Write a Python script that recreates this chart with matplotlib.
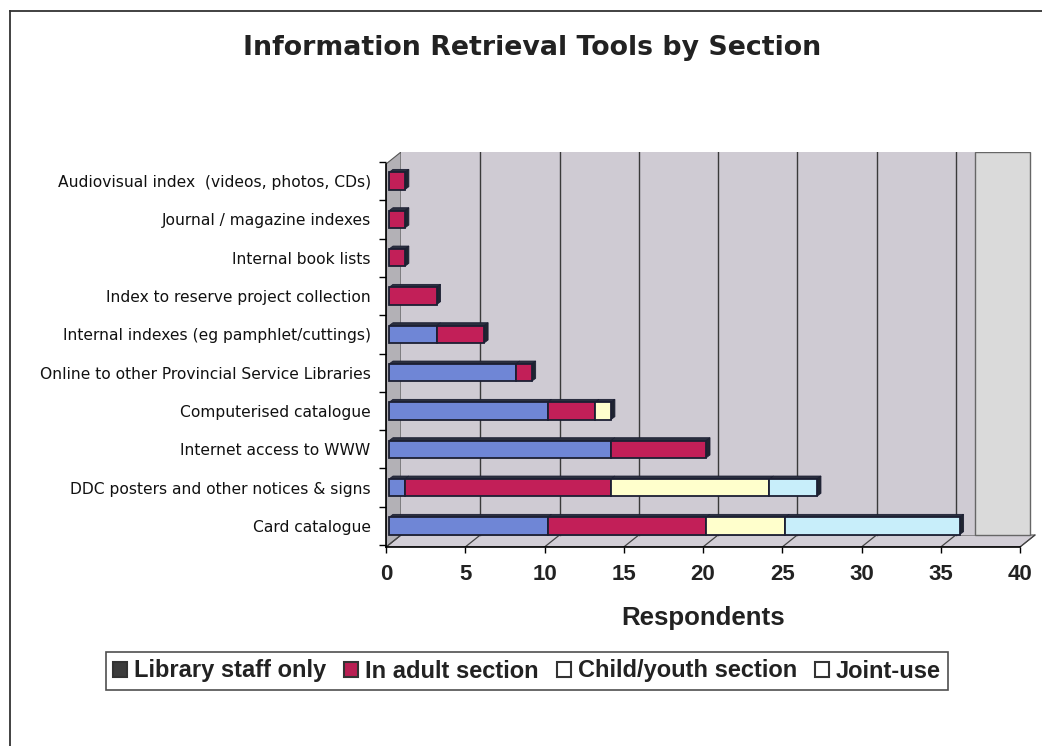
import matplotlib
matplotlib.use("Agg")
import matplotlib.pyplot as plt
import matplotlib.transforms as mtransforms
import numpy as np
from matplotlib.patches import Polygon, Rectangle, Patch
from matplotlib.lines import Line2D

# ---- data -------------------------------------------------------------
categories = [
    "Card catalogue",
    "DDC posters and other notices & signs",
    "Internet access to WWW",
    "Computerised catalogue",
    "Online to other Provincial Service Libraries",
    "Internal indexes (eg pamphlet/cuttings)",
    "Index to reserve project collection",
    "Internal book lists",
    "Journal / magazine indexes",
    "Audiovisual index  (videos, photos, CDs)",
]
series_names = ["Library staff only", "In adult section",
                "Child/youth section", "Joint-use"]
staff_only = [10, 1, 14, 10, 8, 3, 0, 0, 0, 0]
adult_section = [10, 13, 6, 3, 1, 3, 3, 1, 1, 1]
child_youth = [5, 10, 0, 1, 0, 0, 0, 0, 0, 0]
joint_use = [11, 3, 0, 0, 0, 0, 0, 0, 0, 0]
x_ticks = [0, 5, 10, 15, 20, 25, 30, 35, 40]

series = [staff_only, adult_section, child_youth, joint_use]
bar_colors = ["#6f86d6", "#c21f58", "#ffffcc", "#c8eefa"]
legend_faces = ["#3c3c3c", "#b81e52", "white", "white"]

# ---- figure / axes ----------------------------------------------------
W, H = 1042, 746
fig = plt.figure(figsize=(W / 100, H / 100), dpi=100)
fig.patch.set_facecolor("white")

ax = fig.add_axes([386 / W, 1 - 547 / H, 650 / W, 395 / H])
x_max = 650 / 15.85
y_lo, y_hi = -0.548, 9.757
ax.set_xlim(0, x_max)
ax.set_ylim(y_lo, y_hi)
ax.set_facecolor("none")

# depth offsets for the pseudo-3D box
DX = 15 / 15.85
DY = 12 / 38.33
wall_end = 37.15
x_end = x_ticks[-1]

# floor
ax.add_patch(Polygon([(0, y_lo), (x_end, y_lo), (x_end + DX, y_lo + DY),
                      (DX, y_lo + DY)], closed=True, facecolor="#d2ced6",
                     edgecolor="#555555", lw=0.8, zorder=0))
# left side wall
ax.add_patch(Polygon([(0, y_lo), (DX, y_lo + DY), (DX, y_hi), (0, y_hi - DY)],
                     closed=True, facecolor="#b3b1b6", edgecolor="#555555",
                     lw=0.8, zorder=0))
# back wall
ax.add_patch(Rectangle((DX, y_lo + DY), wall_end - DX, y_hi - y_lo - DY,
                       facecolor="#cfcbd3", edgecolor="none", zorder=0))
ax.add_patch(Rectangle((wall_end, y_lo + DY), x_end + DX - wall_end - 0.3,
                       y_hi - y_lo - DY, facecolor="#dadada",
                       edgecolor="#666666", lw=1.0, zorder=0))

# gridlines on the wall and floor
for v in x_ticks[1:-1]:
    ax.plot([v + DX, v + DX], [y_lo + DY, y_hi], color="#3a3a3a", lw=1.0,
            zorder=1)
for v in x_ticks:
    ax.plot([v, v + DX], [y_lo, y_lo + DY], color="#444444", lw=0.9,
            zorder=1)

# ---- stacked bars (sitting slightly behind the front axis) ------------
bar_tr = mtransforms.offset_copy(ax.transData, fig=fig, x=3, y=0,
                                 units="dots")
pos = np.arange(len(categories))
bar_h = 0.45
bdx, bdy = 4 / 15.85, 3 / 38.33
lefts = np.zeros(len(categories))
for vals, col in zip(series, bar_colors):
    vals = np.asarray(vals, dtype=float)
    keep = vals > 0
    ax.barh(pos[keep], vals[keep], left=lefts[keep], height=bar_h,
            color=col, edgecolor="#1c1f33", linewidth=1.3, zorder=3,
            transform=bar_tr)
    # top face of each segment
    for y, l, w in zip(pos[keep], lefts[keep], vals[keep]):
        top = y + bar_h / 2
        ax.add_patch(Polygon([(l, top), (l + w, top), (l + w + bdx, top + bdy),
                              (l + bdx, top + bdy)], closed=True,
                             facecolor="#2a2f3e", edgecolor="#1c1f33",
                             lw=0.6, zorder=2.9, transform=bar_tr))
    lefts = lefts + vals

# end face of each bar
for y, tot in zip(pos, lefts):
    bot, top = y - bar_h / 2, y + bar_h / 2
    ax.add_patch(Polygon([(tot, bot), (tot + bdx, bot + bdy),
                          (tot + bdx, top + bdy), (tot, top)], closed=True,
                         facecolor="#1f2430", edgecolor="#1c1f33", lw=0.6,
                         zorder=2.9, transform=bar_tr))

# ---- axes decoration ----------------------------------------------------
for s in ["top", "right"]:
    ax.spines[s].set_visible(False)
ax.spines["bottom"].set_bounds(0, x_end)
ax.spines["left"].set_bounds(y_lo, y_hi - DY)
ax.spines["bottom"].set_linewidth(1.2)
ax.spines["left"].set_linewidth(1.2)

ax.set_xticks(x_ticks)
ax.set_xticklabels([str(t) for t in x_ticks], fontsize=16,
                   fontweight="bold", family="Liberation Sans",
                   color="#222222")
ax.tick_params(axis="x", direction="out", length=4, width=1.0, pad=8)

ax.set_yticks(pos)
ax.set_yticklabels(categories, fontsize=11.2, family="DejaVu Sans",
                   color="#111111")
ax.tick_params(axis="y", which="major", length=0, pad=11)
ax.set_yticks(np.arange(len(categories) + 1) - 0.5, minor=True)
ax.tick_params(axis="y", which="minor", direction="out", length=5, width=1.0)

# ---- titles ------------------------------------------------------------
fig.text(532 / W, 1 - 48 / H, "Information Retrieval Tools by Section",
         ha="center", va="center", fontsize=19.3, fontweight="bold",
         family="DejaVu Sans", color="#222222")
fig.text(703 / W, 1 - 618 / H, "Respondents", ha="center", va="center",
         fontsize=18.6, fontweight="bold", family="Liberation Sans",
         color="#222222")

# ---- legend --------------------------------------------------------------
handles = [Patch(facecolor=fc, edgecolor="#333333", linewidth=1.5)
           for fc in legend_faces]
leg = fig.legend(handles, series_names, loc="center",
                 bbox_to_anchor=(527 / W, 1 - 671 / H), ncol=4,
                 frameon=True, fancybox=False, edgecolor="#222222",
                 prop={"family": "Liberation Sans", "weight": "bold",
                       "size": 17},
                 handlelength=0.6, handleheight=0.6, handletextpad=0.3,
                 columnspacing=0.75, borderpad=0.3, borderaxespad=0)
leg.get_frame().set_linewidth(1.2)
for t in leg.get_texts():
    t.set_color("#222222")

# ---- outer frame ---------------------------------------------------------
fig.add_artist(Line2D([10 / W, 10 / W], [0, 1 - 11 / H],
                      transform=fig.transFigure, color="#333333", lw=1.3))
fig.add_artist(Line2D([10 / W, 1], [1 - 11 / H, 1 - 11 / H],
                      transform=fig.transFigure, color="#333333", lw=1.3))

fig.savefig("out.png", dpi=100, facecolor="white")
